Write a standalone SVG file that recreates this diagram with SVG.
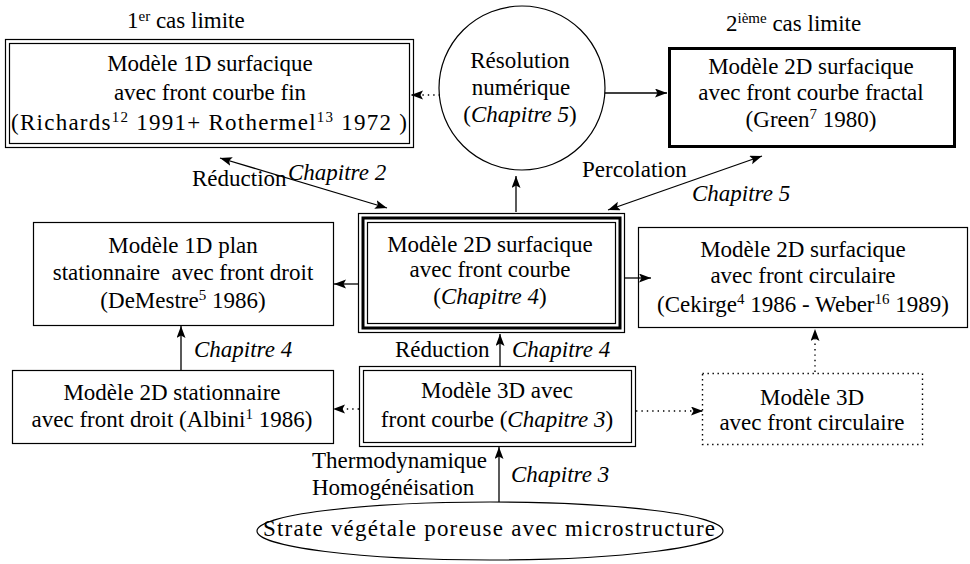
<svg xmlns="http://www.w3.org/2000/svg" width="970" height="564" viewBox="0 0 970 564">
<style>
text{font-family:"Liberation Serif","Times New Roman",serif;font-size:23px;fill:#000}
.c{text-anchor:middle}
.i{font-style:italic}
.sup{font-size:15px}
.thin{fill:none;stroke:#000;stroke-width:1.2}
.thick{fill:none;stroke:#000;stroke-width:3}
.dot{fill:none;stroke:#000;stroke-width:1.4;stroke-dasharray:1.4 3.6}
.ln{fill:none;stroke:#000;stroke-width:1.3}
.dl{fill:none;stroke:#000;stroke-width:1.4;stroke-dasharray:1.4 4}
</style>
<defs>
<marker id="ah" markerUnits="userSpaceOnUse" markerWidth="13" markerHeight="10" refX="12" refY="4.5" orient="auto-start-reverse">
<path d="M0,0 L12,4.5 L0,9 L2.5,4.5 z" fill="#000"/>
</marker>
</defs>
<rect width="970" height="564" fill="#fff"/>

<g id="labels">
<text x="127" y="28">1<tspan class="sup" dy="-7">er</tspan><tspan dy="7"> cas limite</tspan></text>
<text x="726" y="31">2<tspan class="sup" dy="-8">ième</tspan><tspan dy="8"> cas limite</tspan></text>
<text x="192" y="186">Réduction</text>
<text x="288" y="180" class="i">Chapitre 2</text>
<text x="582" y="177">Percolation</text>
<text x="692" y="201" class="i">Chapitre 5</text>
<text x="194" y="357" class="i">Chapitre 4</text>
<text x="395" y="357">Réduction</text>
<text x="512" y="357" class="i">Chapitre 4</text>
<text x="312" y="468">Thermodynamique</text>
<text x="312" y="495">Homogénéisation</text>
<text x="511" y="482" class="i">Chapitre 3</text>
</g>

<g id="connectors">
<line class="dl" x1="440" y1="95" x2="411" y2="95" marker-end="url(#ah)"/>
<line class="ln" x1="605" y1="93" x2="667" y2="93" marker-end="url(#ah)"/>
<line class="ln" x1="516" y1="212" x2="516" y2="176" marker-end="url(#ah)"/>
<line class="ln" x1="220" y1="158" x2="387" y2="208" marker-start="url(#ah)" marker-end="url(#ah)"/>
<line class="ln" x1="608" y1="210" x2="762" y2="156" marker-start="url(#ah)" marker-end="url(#ah)"/>
<line class="ln" x1="358" y1="284" x2="334" y2="284" marker-end="url(#ah)"/>
<line class="ln" x1="625" y1="278" x2="651" y2="278" marker-end="url(#ah)"/>
<line class="dl" x1="815" y1="372" x2="815" y2="329" marker-end="url(#ah)"/>
<line class="ln" x1="500" y1="366" x2="500" y2="334" marker-end="url(#ah)"/>
<line class="dl" x1="359" y1="409" x2="333" y2="409" marker-end="url(#ah)"/>
<line class="dl" x1="636" y1="411" x2="703" y2="411" marker-end="url(#ah)"/>
<line class="ln" x1="181" y1="370" x2="181" y2="326" marker-end="url(#ah)"/>
<line class="ln" x1="499" y1="502" x2="499" y2="447" marker-end="url(#ah)"/>
</g>

<g id="n-1d-surfacique">
<rect class="thin" x="5.5" y="39.5" width="408" height="108"/>
<rect class="thin" x="9.5" y="43.5" width="400" height="100"/>
<text class="c" x="210" y="71">Modèle 1D surfacique</text>
<text class="c" x="210" y="100">avec front courbe fin</text>
<text class="c" x="209" y="130" textLength="396" lengthAdjust="spacing">(Richards<tspan class="sup" dy="-8">12</tspan><tspan dy="8"> 1991+ Rothermel</tspan><tspan class="sup" dy="-8">13</tspan><tspan dy="8"> 1972 )</tspan></text>
</g>

<g id="n-resolution">
<ellipse class="thin" cx="522" cy="88" rx="83" ry="82"/>
<text class="c" x="520" y="68">Résolution</text>
<text class="c" x="521" y="95">numérique</text>
<text class="c" x="520" y="122">(<tspan class="i">Chapitre 5</tspan>)</text>
</g>

<g id="n-2d-fractal">
<rect class="thick" x="669.5" y="48.5" width="285" height="98"/>
<text class="c" x="811" y="74">Modèle 2D surfacique</text>
<text class="c" x="811" y="100">avec front courbe fractal</text>
<text class="c" x="811" y="127">(Green<tspan class="sup" dy="-8">7</tspan><tspan dy="8"> 1980)</tspan></text>
</g>

<g id="n-1d-plan">
<rect class="thin" x="33.5" y="222.5" width="300" height="103"/>
<text class="c" x="183" y="253">Modèle 1D plan</text>
<text class="c" x="183" y="280" xml:space="preserve">stationnaire  avec front droit</text>
<text class="c" x="183" y="308">(DeMestre<tspan class="sup" dy="-8">5</tspan><tspan dy="8"> 1986)</tspan></text>
</g>

<g id="n-2d-courbe">
<rect class="thin" x="358.5" y="213.5" width="266" height="119"/>
<rect class="thick" x="363" y="218" width="257" height="110"/>
<rect class="thin" x="367.5" y="222.5" width="248" height="101"/>
<text class="c" x="490" y="252">Modèle 2D surfacique</text>
<text class="c" x="490" y="277">avec front courbe</text>
<text class="c" x="490" y="304">(<tspan class="i">Chapitre 4</tspan>)</text>
</g>

<g id="n-2d-circulaire">
<rect class="thin" x="638.5" y="227.5" width="329" height="100"/>
<text class="c" x="803" y="257">Modèle 2D surfacique</text>
<text class="c" x="803" y="283">avec front circulaire</text>
<text class="c" x="803" y="312">(Cekirge<tspan class="sup" dy="-8">4</tspan><tspan dy="8"> 1986 - Weber</tspan><tspan class="sup" dy="-8">16</tspan><tspan dy="8"> 1989)</tspan></text>
</g>

<g id="n-2d-stationnaire">
<rect class="thin" x="12.5" y="370.5" width="321" height="73"/>
<text class="c" x="172" y="400">Modèle 2D stationnaire</text>
<text class="c" x="172" y="427">avec front droit (Albini<tspan class="sup" dy="-8">1</tspan><tspan dy="8"> 1986)</tspan></text>
</g>

<g id="n-3d-courbe">
<rect class="thin" x="359.5" y="366.5" width="276" height="80"/>
<rect class="thin" x="363.5" y="370.5" width="268" height="72"/>
<text class="c" x="497" y="398">Modèle 3D avec</text>
<text class="c" x="497" y="427">front courbe (<tspan class="i">Chapitre 3</tspan>)</text>
</g>

<g id="n-3d-circulaire">
<rect class="dot" x="702.5" y="373.5" width="220" height="71"/>
<text class="c" x="812" y="405">Modèle 3D</text>
<text class="c" x="812" y="430">avec front circulaire</text>
</g>

<g id="n-strate">
<ellipse class="thin" cx="490" cy="531" rx="233" ry="29"/>
<text class="c" x="489" y="536" textLength="452" lengthAdjust="spacing">Strate végétale poreuse avec microstructure</text>
</g>
</svg>
